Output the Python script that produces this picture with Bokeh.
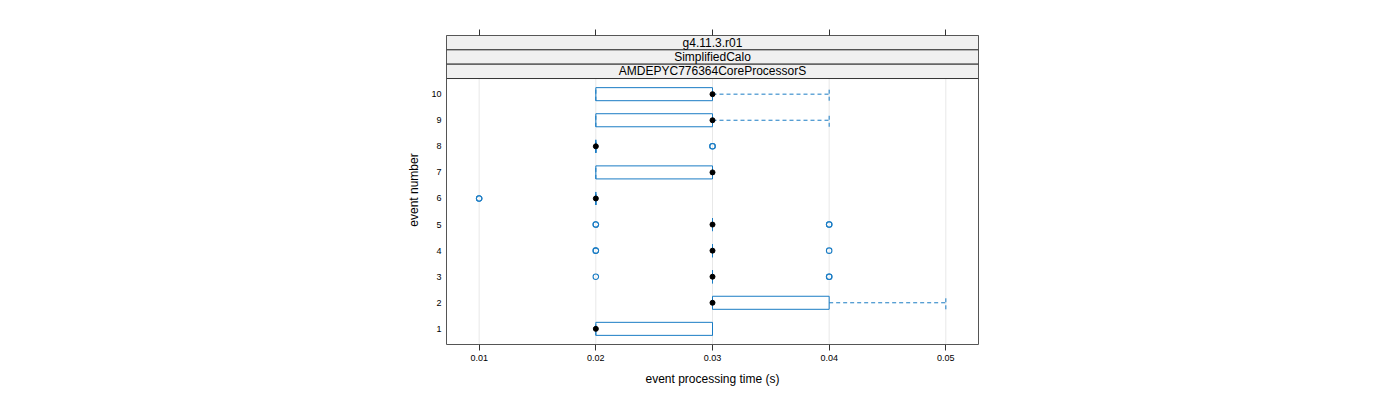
from bokeh.plotting import figure
from bokeh.models import LinearAxis, FixedTicker, Range1d, ColumnDataSource
from bokeh.core.properties import value
from bokeh.embed import file_html
from bokeh.resources import INLINE

# ---- data ----
events = [1, 2, 3, 4, 5, 6, 7, 8, 9, 10]
whisker_low = [0.02, 0.03, 0.03, 0.03, 0.03, 0.02, 0.02, 0.02, 0.02, 0.02]
q1 = [0.02, 0.03, 0.03, 0.03, 0.03, 0.02, 0.02, 0.02, 0.02, 0.02]
median = [0.02, 0.03, 0.03, 0.03, 0.03, 0.02, 0.03, 0.02, 0.03, 0.03]
q3 = [0.03, 0.04, 0.03, 0.03, 0.03, 0.02, 0.03, 0.02, 0.03, 0.03]
whisker_high = [0.03, 0.05, 0.03, 0.03, 0.03, 0.02, 0.03, 0.02, 0.04, 0.04]
outlier_event = [3, 3, 3, 4, 4, 4, 5, 5, 5, 5, 6, 6, 8, 8]
outlier_time = [0.02, 0.04, 0.04, 0.02, 0.02, 0.04, 0.02, 0.02, 0.04, 0.04, 0.01, 0.01, 0.03, 0.03]
x_ticks = [0.01, 0.02, 0.03, 0.04, 0.05]
y_ticks = [1, 2, 3, 4, 5, 6, 7, 8, 9, 10]
strip_labels = ["g4.11.3.r01", "SimplifiedCalo", "AMDEPYC776364CoreProcessorS"]
x_label = "event processing time (s)"
y_label = "event number"

# ---- style ----
BLUE = "#1a7cc4"
FONT = "Liberation Sans"
half = 0.25
y_lo, y_panel_top, strip_h = 0.4, 10.6, 0.55
x_lo, x_hi = 0.0072, 0.0528
y_hi = y_panel_top + strip_h * len(strip_labels)

p = figure(width=1400, height=400, output_backend="svg", toolbar_location=None,
           x_range=Range1d(x_lo, x_hi), y_range=Range1d(y_lo, y_hi),
           min_border_left=446, min_border_right=422, min_border_top=35, min_border_bottom=56)
p.xgrid.visible = False
p.ygrid.visible = False
p.outline_line_color = "#555555"
p.outline_line_width = 1

# grid lines
p.segment(x0=x_ticks, y0=[y_lo] * len(x_ticks), x1=x_ticks, y1=[y_panel_top] * len(x_ticks),
          line_color="#e8e8e8", line_width=1)

# strips
n = len(strip_labels)
strip_bottom = [y_panel_top + strip_h * (n - 1 - i) for i in range(n)]
strip_top = [b + strip_h for b in strip_bottom]
p.quad(left=[x_lo] * n, right=[x_hi] * n, bottom=strip_bottom, top=strip_top,
       fill_color="#f0f0f0", line_color="#333333", line_width=1)
p.text(x=[(x_lo + x_hi) / 2] * n, y=[(b + t) / 2 for b, t in zip(strip_bottom, strip_top)],
       text=strip_labels, text_align="center", text_baseline="middle",
       text_font=value(FONT), text_font_size="12px", text_color="#000000")

# boxes
src = ColumnDataSource(dict(ev=events, wl=whisker_low, q1=q1, med=median, q3=q3, wh=whisker_high,
                            bot=[e - half for e in events], top=[e + half for e in events]))
p.quad(left="q1", right="q3", bottom="bot", top="top", source=src,
       fill_color=None, line_color=BLUE, line_width=1)
# whiskers
p.segment(x0="q3", y0="ev", x1="wh", y1="ev", source=src, line_color=BLUE, line_dash="4 3")
p.segment(x0="q1", y0="ev", x1="wl", y1="ev", source=src, line_color=BLUE, line_dash="4 3")
p.segment(x0="wh", y0="bot", x1="wh", y1="top", source=src, line_color=BLUE, line_dash="4 3")
p.segment(x0="wl", y0="bot", x1="wl", y1="top", source=src, line_color=BLUE, line_dash="4 3")
# medians
p.scatter(x="med", y="ev", source=src, size=5, fill_color="black", line_color="black")
# outliers
p.scatter(x=outlier_time, y=outlier_event, marker="circle", size=5.5, fill_color=None,
          line_color=BLUE, line_width=1.1)

# bottom axis
xa = p.xaxis[0]
xa.ticker = FixedTicker(ticks=x_ticks)
xa.minor_tick_line_color = None
xa.axis_line_color = None
xa.major_tick_in = 0
xa.major_tick_out = 6
xa.major_tick_line_color = "#333333"
xa.major_label_text_font = FONT
xa.major_label_text_font_size = "9px"
xa.major_label_text_color = "#000000"
xa.major_label_standoff = 4
xa.axis_label = x_label
xa.axis_label_text_font = FONT
xa.axis_label_text_font_size = "12px"
xa.axis_label_text_font_style = "normal"
xa.axis_label_text_color = "#000000"
xa.axis_label_standoff = 8

# top axis (ticks only)
ta = LinearAxis(ticker=FixedTicker(ticks=x_ticks),
                major_label_overrides={t: "" for t in x_ticks})
ta.minor_tick_line_color = None
ta.axis_line_color = None
ta.major_tick_in = 0
ta.major_tick_out = 6
ta.major_tick_line_color = "#333333"
p.add_layout(ta, "above")

# left axis
ya = p.yaxis[0]
ya.ticker = FixedTicker(ticks=y_ticks)
ya.minor_tick_line_color = None
ya.axis_line_color = None
ya.major_tick_in = 0
ya.major_tick_out = 0
ya.major_label_text_font = FONT
ya.major_label_text_font_size = "9px"
ya.major_label_text_color = "#000000"
ya.major_label_standoff = 5
ya.axis_label = y_label
ya.axis_label_text_font = FONT
ya.axis_label_text_font_size = "12px"
ya.axis_label_text_font_style = "normal"
ya.axis_label_text_color = "#000000"
ya.axis_label_standoff = 7

open("out.html", "w").write(file_html(p, INLINE))
